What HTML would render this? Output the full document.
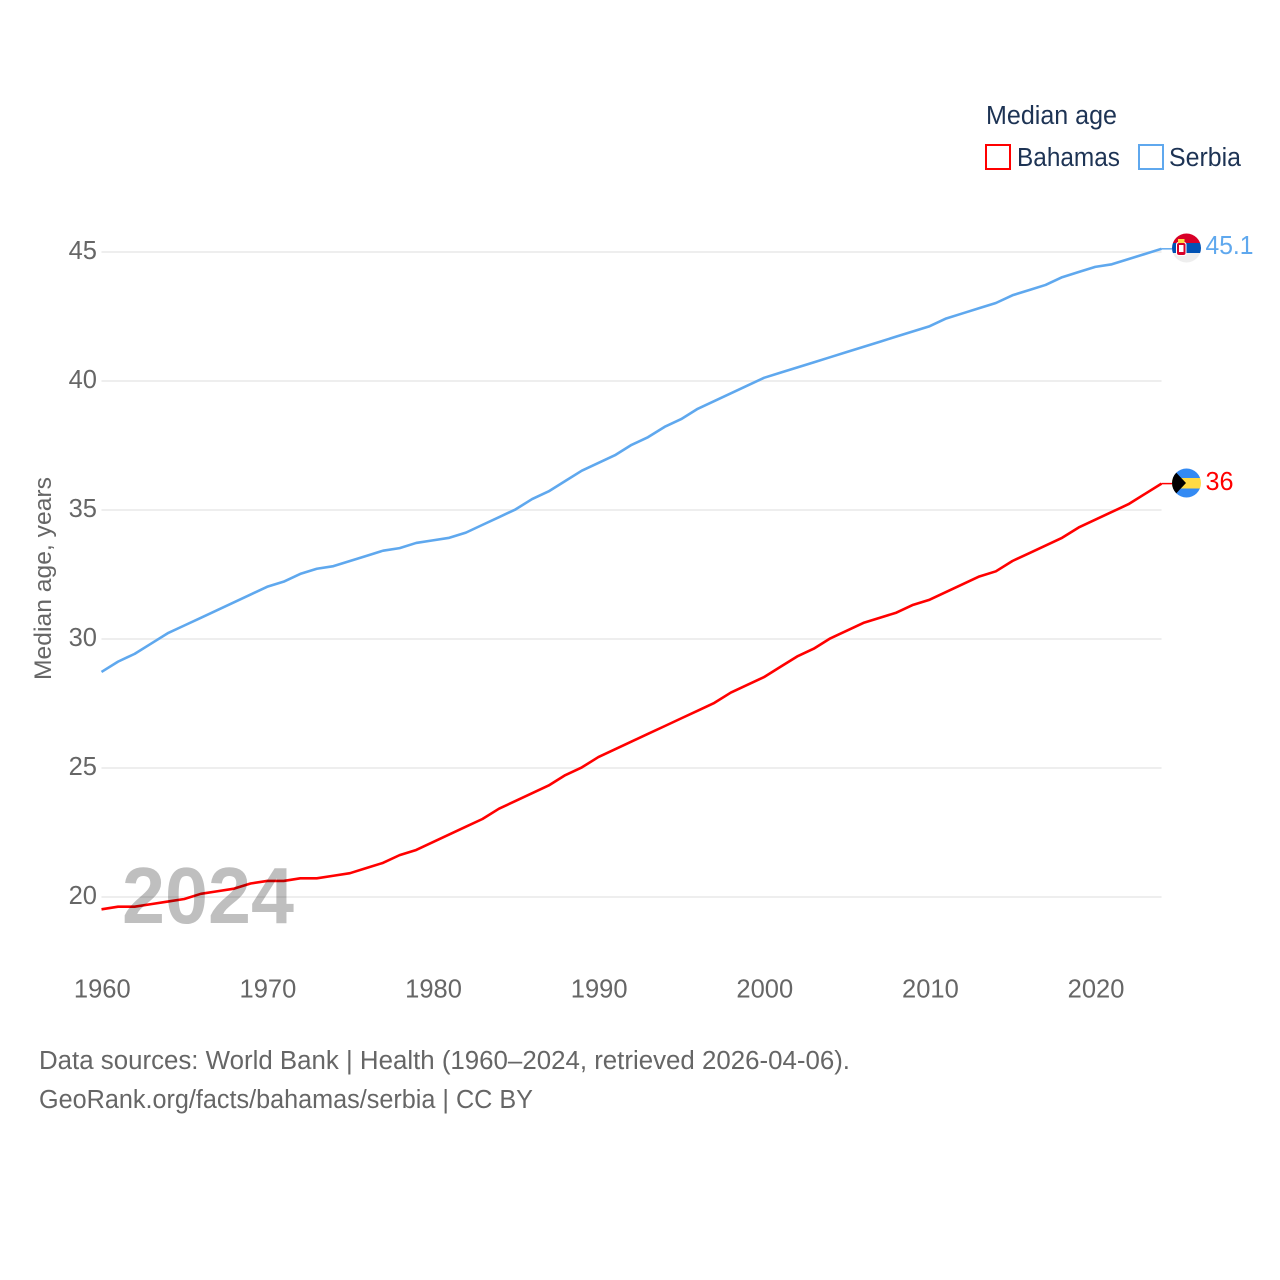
<!DOCTYPE html>
<html lang="en">
<head>
<meta charset="utf-8">
<title>Median age: Bahamas and Serbia</title>
<style>
html,body{margin:0;padding:0;background:#fff;}
svg{display:block;font-family:"Liberation Sans",sans-serif;}
</style>
</head>
<body>
<svg id="chart" xmlns="http://www.w3.org/2000/svg" width="1280" height="1280" viewBox="0 0 1280 1280">
  <rect width="1280" height="1280" fill="#fff"/>
  <g id="grid"></g>
  <g id="yticks"></g>
  <g id="xticks"></g>
  <g id="lines" transform="translate(0,-0.6)"></g>
  <text x="122" y="923" font-size="80" font-weight="400" stroke="#000" stroke-opacity="0" fill="#000" fill-opacity="0.25" textLength="172" lengthAdjust="spacingAndGlyphs" style="font-weight:700">2024</text>

  <text transform="translate(51,680) rotate(-90)" font-size="24.5" fill="#666" textLength="203" lengthAdjust="spacingAndGlyphs">Median age, years</text>

  <text x="986" y="124" font-size="25.5" fill="#1d3354" textLength="131" lengthAdjust="spacingAndGlyphs">Median age</text>
  <rect x="986" y="145" width="24" height="24" fill="none" stroke="#ff0000" stroke-width="2"/>
  <text x="1017" y="166" font-size="25.5" fill="#1d3354" textLength="103" lengthAdjust="spacingAndGlyphs">Bahamas</text>
  <rect x="1139" y="145" width="24" height="24" fill="none" stroke="#5fa8ee" stroke-width="2"/>
  <text x="1169" y="166" font-size="25.5" fill="#1d3354" textLength="72" lengthAdjust="spacingAndGlyphs">Serbia</text>

  <defs>
    <clipPath id="serbia-clip"><circle cx="1186.5" cy="248" r="14.5"/></clipPath>
    <clipPath id="bahamas-clip"><circle cx="1186.5" cy="483" r="14.5"/></clipPath>
  </defs>
  <g clip-path="url(#serbia-clip)">
    <rect x="1172" y="233" width="30" height="10" fill="#d80027"/>
    <rect x="1172" y="243" width="30" height="10" fill="#0052b4"/>
    <rect x="1172" y="253" width="30" height="10" fill="#eeeeee"/>
    <rect x="1176" y="242" width="10.5" height="14" rx="2.5" fill="#fff"/>
    <rect x="1177" y="243" width="8.5" height="12" rx="2" fill="#d80027"/>
    <rect x="1179" y="245" width="4.5" height="7" fill="#fff"/>
    <rect x="1178" y="239" width="6.5" height="4" fill="#ffda44"/>
  </g>
  <g clip-path="url(#bahamas-clip)">
    <rect x="1172" y="468" width="30" height="10" fill="#338af3"/>
    <rect x="1172" y="478" width="30" height="10.5" fill="#ffda44"/>
    <rect x="1172" y="488.5" width="30" height="10" fill="#338af3"/>
    <polygon points="1170,466 1186,483 1170,500" fill="#000"/>
  </g>

  <text x="1205.5" y="254" font-size="25.5" fill="#5fa8ee" textLength="48" lengthAdjust="spacingAndGlyphs">45.1</text>
  <text x="1205.5" y="490" font-size="25.5" fill="#ff0000" textLength="28" lengthAdjust="spacingAndGlyphs">36</text>

  <text x="39" y="1069" font-size="25.5" fill="#666" textLength="811" lengthAdjust="spacingAndGlyphs">Data sources: World Bank | Health (1960–2024, retrieved 2026-04-06).</text>
  <a><text x="39" y="1108" font-size="25.5" fill="#666" textLength="494" lengthAdjust="spacingAndGlyphs">GeoRank.org/facts/bahamas/serbia | CC BY</text></a>
</svg>
<script>
const years = [1960,1961,1962,1963,1964,1965,1966,1967,1968,1969,1970,1971,1972,1973,1974,1975,1976,1977,1978,1979,1980,1981,1982,1983,1984,1985,1986,1987,1988,1989,1990,1991,1992,1993,1994,1995,1996,1997,1998,1999,2000,2001,2002,2003,2004,2005,2006,2007,2008,2009,2010,2011,2012,2013,2014,2015,2016,2017,2018,2019,2020,2021,2022,2023,2024];
const bahamasValues = [19.5,19.6,19.6,19.7,19.8,19.9,20.1,20.2,20.3,20.5,20.6,20.6,20.7,20.7,20.8,20.9,21.1,21.3,21.6,21.8,22.1,22.4,22.7,23.0,23.4,23.7,24.0,24.3,24.7,25.0,25.4,25.7,26.0,26.3,26.6,26.9,27.2,27.5,27.9,28.2,28.5,28.9,29.3,29.6,30.0,30.3,30.6,30.8,31.0,31.3,31.5,31.8,32.1,32.4,32.6,33.0,33.3,33.6,33.9,34.3,34.6,34.9,35.2,35.6,36.0];
const serbiaValues = [28.7,29.1,29.4,29.8,30.2,30.5,30.8,31.1,31.4,31.7,32.0,32.2,32.5,32.7,32.8,33.0,33.2,33.4,33.5,33.7,33.8,33.9,34.1,34.4,34.7,35.0,35.4,35.7,36.1,36.5,36.8,37.1,37.5,37.8,38.2,38.5,38.9,39.2,39.5,39.8,40.1,40.3,40.5,40.7,40.9,41.1,41.3,41.5,41.7,41.9,42.1,42.4,42.6,42.8,43.0,43.3,43.5,43.7,44.0,44.2,44.4,44.5,44.7,44.9,45.1];
const yTickValues = [20,25,30,35,40,45];
const xTickValues = [1960,1970,1980,1990,2000,2010,2020];

const NS = 'http://www.w3.org/2000/svg';
function xScale(year){ return 101.5 + (year - 1960) * (1060 / 64); }
function yScale(value){ return 897 - (value - 20) * 25.8; }

const gridGroup = document.getElementById('grid');
const yTickGroup = document.getElementById('yticks');
const xTickGroup = document.getElementById('xticks');
const lineGroup = document.getElementById('lines');

yTickValues.forEach(function(v){
  const line = document.createElementNS(NS, 'line');
  
  
  line.setAttribute('x1', xScale(1960));
  line.setAttribute('x2', xScale(2024));
  line.setAttribute('y1', yScale(v));
  line.setAttribute('y2', yScale(v));
  line.setAttribute('stroke', '#eeeeee');
  line.setAttribute('stroke-width', '2');
  gridGroup.appendChild(line);

  const label = document.createElementNS(NS, 'text');
  
  
  label.setAttribute('x', 97);
  label.setAttribute('y', yScale(v) + 7);
  label.setAttribute('text-anchor', 'end');
  label.setAttribute('font-size', '25.5');
  label.setAttribute('fill', '#666');
  label.textContent = v;
  yTickGroup.appendChild(label);
});

xTickValues.forEach(function(y){
  const label = document.createElementNS(NS, 'text');
  
  
  label.setAttribute('x', xScale(y) + 0.8);
  label.setAttribute('y', 997.5);
  label.setAttribute('text-anchor', 'middle');
  label.setAttribute('font-size', '25.5');
  label.setAttribute('fill', '#666');
  label.textContent = y;
  xTickGroup.appendChild(label);
});

function linePoints(values){
  return values.map(function(v, i){ return xScale(years[i]).toFixed(2) + ',' + yScale(v).toFixed(2); }).join(' ');
}

const serbiaLine = document.createElementNS(NS, 'polyline');


serbiaLine.setAttribute('points', linePoints(serbiaValues));
serbiaLine.setAttribute('fill', 'none');
serbiaLine.setAttribute('stroke', '#5fa8ee');
serbiaLine.setAttribute('stroke-width', '2.6');
serbiaLine.setAttribute('stroke-linejoin', 'round');
lineGroup.appendChild(serbiaLine);

const serbiaLeader = document.createElementNS(NS, 'line');


serbiaLeader.setAttribute('x1', xScale(2024));
serbiaLeader.setAttribute('x2', 1172);
serbiaLeader.setAttribute('y1', yScale(serbiaValues[serbiaValues.length - 1]));
serbiaLeader.setAttribute('y2', yScale(serbiaValues[serbiaValues.length - 1]));
serbiaLeader.setAttribute('stroke', '#5fa8ee');
serbiaLeader.setAttribute('stroke-width', '1.5');
lineGroup.appendChild(serbiaLeader);

const bahamasLine = document.createElementNS(NS, 'polyline');


bahamasLine.setAttribute('points', linePoints(bahamasValues));
bahamasLine.setAttribute('fill', 'none');
bahamasLine.setAttribute('stroke', '#ff0000');
bahamasLine.setAttribute('stroke-width', '2.6');
bahamasLine.setAttribute('stroke-linejoin', 'round');
lineGroup.appendChild(bahamasLine);

const bahamasLeader = document.createElementNS(NS, 'line');


bahamasLeader.setAttribute('x1', xScale(2024));
bahamasLeader.setAttribute('x2', 1172);
bahamasLeader.setAttribute('y1', yScale(bahamasValues[bahamasValues.length - 1]));
bahamasLeader.setAttribute('y2', yScale(bahamasValues[bahamasValues.length - 1]));
bahamasLeader.setAttribute('stroke', '#ff0000');
bahamasLeader.setAttribute('stroke-width', '1.5');
lineGroup.appendChild(bahamasLeader);
</script>
</body>
</html>
